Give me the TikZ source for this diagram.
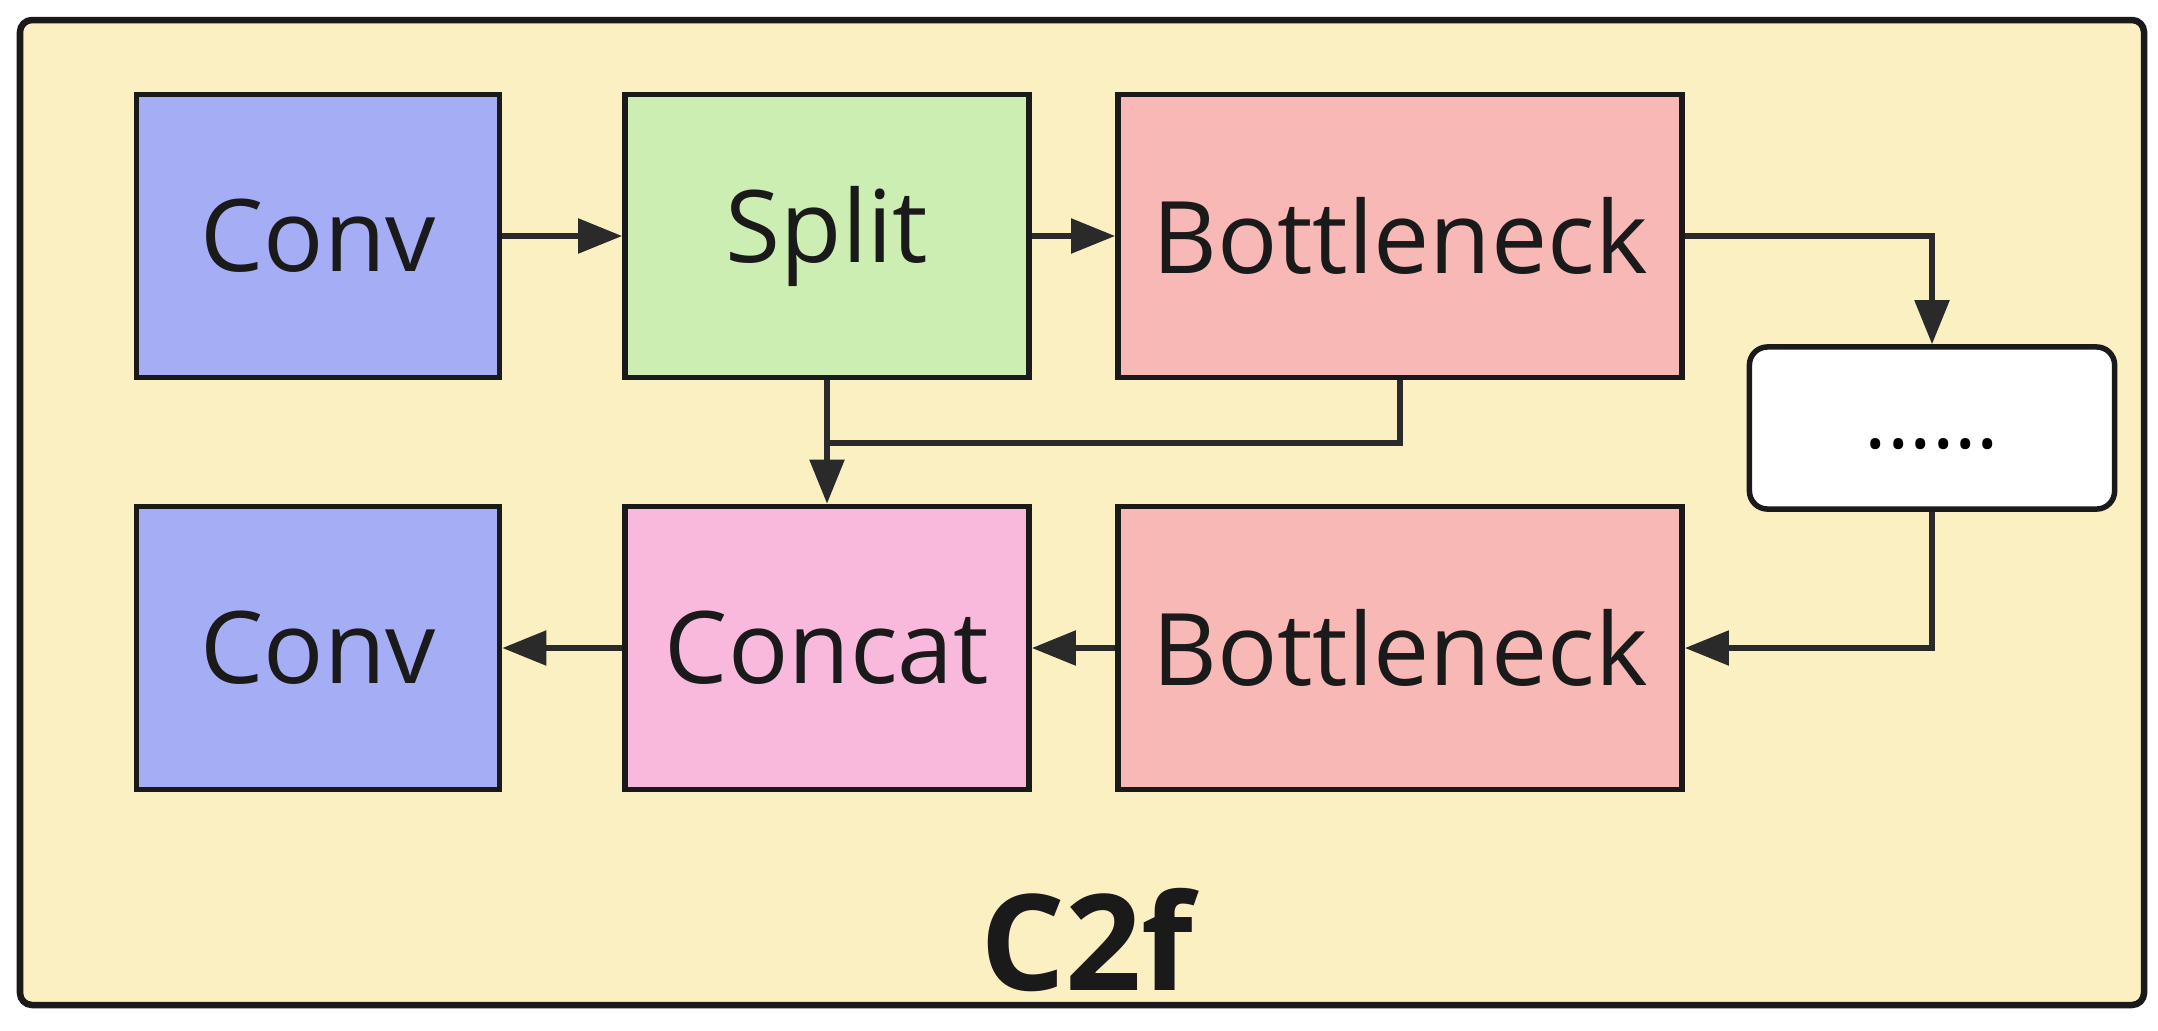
\documentclass[tikz,border=0pt]{standalone}
\usepackage{fontspec}
\setmainfont{Open Sans}
\usetikzlibrary{arrows.meta}
\definecolor{bgyellow}{HTML}{FAF0C2}
\definecolor{convblue}{HTML}{A5ADF5}
\definecolor{splitgreen}{HTML}{CCEEB2}
\definecolor{bnred}{HTML}{F8B9B6}
\definecolor{catpink}{HTML}{F8B9DC}
\definecolor{edge}{HTML}{1A1A1A}
\definecolor{arrowcol}{HTML}{2A2A2A}
\tikzset{
  blockbox/.style={draw=edge, line width=0.055cm, minimum height=2.83cm, inner sep=0pt,
    font=\fontsize{28.5}{34}\selectfont, text=edge},
  arr/.style={draw=arrowcol, line width=0.055cm, -{Triangle[length=0.44cm,width=0.34cm]}},
  plainline/.style={draw=arrowcol, line width=0.055cm}
}
\begin{document}
\begin{tikzpicture}[x=0.01cm,y=-0.01cm]
\useasboundingbox (0,0) rectangle (2158,1030);
\draw[draw=edge, line width=0.065cm, fill=bgyellow, rounded corners=0.12cm] (20,20) rectangle (2144,1005);
\node[blockbox, fill=convblue, minimum width=3.63cm] (conv1) at (318,236) {Conv};
\node[blockbox, fill=splitgreen, minimum width=4.04cm] (split) at (827,236) {Split};
\node[blockbox, fill=bnred, minimum width=5.64cm] (bn1) at (1400,236) {Bottleneck};
\node[draw=edge, line width=0.055cm, fill=white, rounded corners=0.18cm, minimum width=3.65cm, minimum height=1.62cm, inner sep=0pt, font=\fontsize{24}{30}\selectfont] (dots) at (1932,428) {\smash{\raisebox{-0.2cm}{......}}};
\node[blockbox, fill=convblue, minimum width=3.63cm] (conv2) at (318,648) {Conv};
\node[blockbox, fill=catpink, minimum width=4.04cm] (concat) at (827,648) {Concat};
\node[blockbox, fill=bnred, minimum width=5.64cm] (bn2) at (1400,648) {Bottleneck};
\node[font=\bfseries\fontsize{38}{44}\selectfont, text=edge] (title) at (1087,940) {C2f};
\coordinate (join) at (827,443);
\draw[arr] (conv1.east) -- (split.west);
\draw[arr] (split.east) -- (bn1.west);
\draw[arr] (bn1.east) -| (dots.north);
\draw[arr] (dots.south) |- (bn2.east);
\draw[arr] (bn2.west) -- (concat.east);
\draw[arr] (concat.west) -- (conv2.east);
\draw[arr] (split.south) -- (concat.north);
\draw[plainline] (bn1.south) |- (join);
\end{tikzpicture}
\end{document}
